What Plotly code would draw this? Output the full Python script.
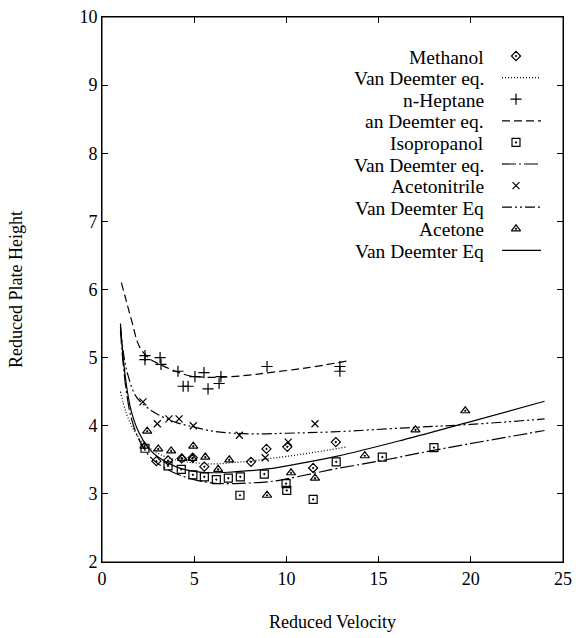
import plotly.graph_objects as go

# ---------------- data ----------------
methanol_x = [2.95, 3.58, 4.32, 4.92, 5.55, 8.08, 8.92, 10.05, 11.45, 12.68]
methanol_y = [3.48, 3.49, 3.52, 3.53, 3.40, 3.47, 3.66, 3.69, 3.38, 3.76]
methanol_fit_x = [1.0, 1.3, 1.7, 2.2, 3.0, 3.5, 4.3, 5.3, 6.2, 7.1, 8.0, 9.1, 10.0, 11.5, 13.3]
methanol_fit_y = [4.50, 4.20, 3.95, 3.76, 3.60, 3.54, 3.48, 3.45, 3.44, 3.46, 3.48, 3.52, 3.55, 3.61, 3.69]

heptane_x = [2.33, 2.33, 3.15, 3.20, 4.12, 4.40, 4.67, 5.04, 5.53, 5.75, 6.35, 6.45, 8.95, 12.9, 12.9]
heptane_y = [5.03, 4.97, 5.00, 4.90, 4.80, 4.58, 4.58, 4.72, 4.78, 4.54, 4.62, 4.72, 4.87, 4.87, 4.80]
heptane_fit_x = [1.05, 1.3, 1.6, 2.05, 2.6, 3.15, 4.0, 4.8, 6.0, 7.0, 8.2, 9.1, 11.1, 13.3]
heptane_fit_y = [6.10, 5.85, 5.55, 5.15, 4.98, 4.90, 4.80, 4.73, 4.71, 4.72, 4.75, 4.78, 4.85, 4.95]

isopropanol_x = [2.33, 3.58, 4.30, 4.93, 5.55, 6.20, 6.85, 7.50, 8.80, 7.48, 9.98, 10.02, 11.45, 12.70, 15.20, 18.00]
isopropanol_y = [3.67, 3.41, 3.36, 3.28, 3.25, 3.21, 3.23, 3.25, 3.29, 2.98, 3.15, 3.05, 2.92, 3.47, 3.54, 3.68]
isopropanol_fit_x = [1.0, 1.15, 1.35, 1.6, 2.0, 2.5, 3.0, 4.0, 5.0, 6.0, 7.0, 8.0, 9.1, 10.0, 11.45, 12.7, 15.0, 18.2, 24.0]
isopropanol_fit_y = [5.40, 4.90, 4.45, 4.10, 3.80, 3.58, 3.45, 3.30, 3.21, 3.16, 3.15, 3.16, 3.18, 3.22, 3.30, 3.37, 3.48, 3.65, 3.93]

acetonitrile_x = [2.22, 3.00, 3.63, 4.18, 4.95, 7.45, 8.85, 10.10, 11.55]
acetonitrile_y = [4.35, 4.03, 4.10, 4.10, 4.00, 3.86, 3.53, 3.76, 4.03]
acetonitrile_fit_x = [1.0, 1.2, 1.4, 1.8, 2.3, 3.0, 4.0, 5.0, 6.0, 7.2, 8.5, 10.0, 12.5, 16.5, 20.0, 24.0]
acetonitrile_fit_y = [5.45, 5.00, 4.75, 4.45, 4.30, 4.17, 4.05, 3.98, 3.92, 3.89, 3.88, 3.89, 3.91, 3.97, 4.02, 4.10]

acetone_x = [2.45, 2.30, 3.05, 3.75, 4.35, 4.95, 4.90, 5.60, 6.30, 6.90, 8.95, 10.25, 11.55, 14.25, 17.00, 19.70]
acetone_y = [3.92, 3.70, 3.66, 3.63, 3.52, 3.70, 3.52, 3.54, 3.36, 3.50, 2.98, 3.31, 3.23, 3.56, 3.94, 4.22]
acetone_fit_x = [1.0, 1.15, 1.35, 1.6, 2.0, 2.5, 3.0, 4.0, 5.0, 6.0, 7.0, 8.0, 9.1, 10.0, 12.7, 16.3, 20.0, 24.0]
acetone_fit_y = [5.50, 5.00, 4.55, 4.20, 3.90, 3.68, 3.55, 3.40, 3.33, 3.31, 3.32, 3.34, 3.37, 3.41, 3.55, 3.79, 4.06, 4.36]

legend_labels = ["Methanol", "Van Deemter eq.", "n-Heptane", "an Deemter eq.",
                 "Isopropanol", "Van Deemter eq.", "Acetonitrile", "Van Deemter Eq",
                 "Acetone", "Van Deemter Eq"]

x_ticks = [0, 5, 10, 15, 20, 25]
y_ticks = [2, 3, 4, 5, 6, 7, 8, 9, 10]

# ---------------- styles ----------------
FONT = "Liberation Serif"
BLACK = "black"
W, H = 576, 638
L, R, T, B = 102, 13, 17, 76

markers = {
    "diamond": dict(symbol="diamond-open-dot", size=7),
    "plus": dict(symbol="cross-thin-open", size=8),
    "square": dict(symbol="square-open-dot", size=8),
    "x": dict(symbol="x-thin-open", size=7),
    "tri": dict(symbol="triangle-up-open-dot", size=8),
}
dashes = {
    "dot": "1px,2px",
    "dash": "8px,4px",
    "dashdot": "14px,3px,2px,3px",
    "dashdotdot": "10px,3px,2px,3px,2px,3px",
    "solid": "solid",
}

series = [
    (methanol_x, methanol_y, "diamond", methanol_fit_x, methanol_fit_y, "dot"),
    (heptane_x, heptane_y, "plus", heptane_fit_x, heptane_fit_y, "dash"),
    (isopropanol_x, isopropanol_y, "square", isopropanol_fit_x, isopropanol_fit_y, "dashdot"),
    (acetonitrile_x, acetonitrile_y, "x", acetonitrile_fit_x, acetonitrile_fit_y, "dashdotdot"),
    (acetone_x, acetone_y, "tri", acetone_fit_x, acetone_fit_y, "solid"),
]

fig = go.Figure()
for (px, py, mk, fx, fy, ds) in series:
    fig.add_trace(go.Scatter(x=fx, y=fy, mode="lines", showlegend=False, hoverinfo="skip",
                             line=dict(color=BLACK, width=1.2, dash=dashes[ds], shape="spline", smoothing=1.0)))
for (px, py, mk, fx, fy, ds) in series:
    m = markers[mk]
    fig.add_trace(go.Scatter(x=px, y=py, mode="markers", showlegend=False,
                             marker=dict(symbol=m["symbol"], size=m["size"], color=BLACK,
                                         line=dict(color=BLACK, width=1.2))))

# ---------------- hand-drawn legend (symbol on the right, as in the original) ----------------
# positions in pixels of the plotting area (overlay axis x2/y2 maps plot pixels)
leg_row0, leg_step = 39, 21.6
leg_text_right = 384
leg_mark_x = 414
leg_line_x = [400, 439]
PLOT_W = W - L - R
PLOT_H = H - T - B
for i, lab in enumerate(legend_labels):
    yy = leg_row0 + i * leg_step
    fig.add_annotation(x=leg_text_right, y=yy + 1, xref="x2", yref="y2", text=lab, showarrow=False,
                       xanchor="right", yanchor="middle", font=dict(family=FONT, size=19.5, color=BLACK))
    s = series[i // 2]
    if i % 2 == 0:
        m = markers[s[2]]
        fig.add_trace(go.Scatter(x=[leg_mark_x], y=[yy], xaxis="x2", yaxis="y2", mode="markers",
                                 showlegend=False, hoverinfo="skip",
                                 marker=dict(symbol=m["symbol"], size=m["size"], color=BLACK,
                                             line=dict(color=BLACK, width=1.2))))
    else:
        fig.add_trace(go.Scatter(x=leg_line_x, y=[yy, yy], xaxis="x2", yaxis="y2", mode="lines",
                                 showlegend=False, hoverinfo="skip",
                                 line=dict(color=BLACK, width=1.2, dash=dashes[s[5]])))

# frame round the plotting area
fig.add_shape(type="rect", xref="paper", yref="paper", x0=0, y0=0, x1=1, y1=1,
              line=dict(color=BLACK, width=1), layer="above")

axis_common = dict(showgrid=False, zeroline=False, showline=True, linecolor=BLACK, linewidth=1,
                   mirror="allticks", ticks="inside", ticklen=6, tickcolor=BLACK, tickwidth=1,
                   automargin=False, ticklabeloverflow="allow",
                   tickfont=dict(family=FONT, size=18, color=BLACK))

fig.update_layout(
    width=W, height=H,
    margin=dict(l=L, r=R, t=T, b=B),
    paper_bgcolor="white", plot_bgcolor="white",
    showlegend=False,
    xaxis=dict(range=[0, 25], tickvals=x_ticks, ticktext=[str(v) for v in x_ticks],
               title=dict(text="Reduced Velocity", font=dict(family=FONT, size=18, color=BLACK), standoff=27),
               **axis_common),
    yaxis=dict(range=[2, 10], tickvals=y_ticks, ticktext=[str(v) for v in y_ticks],
               title=dict(text="Reduced Plate Height", font=dict(family=FONT, size=18, color=BLACK), standoff=52),
               **axis_common),
    xaxis2=dict(range=[0, PLOT_W], overlaying="x", anchor="y2", visible=False, fixedrange=True),
    yaxis2=dict(range=[PLOT_H, 0], overlaying="y", anchor="x2", visible=False, fixedrange=True),
)

fig.write_html("out.html", config={"displayModeBar": False},
               post_script="document.body.style.margin='0';document.body.style.overflow='hidden';")
